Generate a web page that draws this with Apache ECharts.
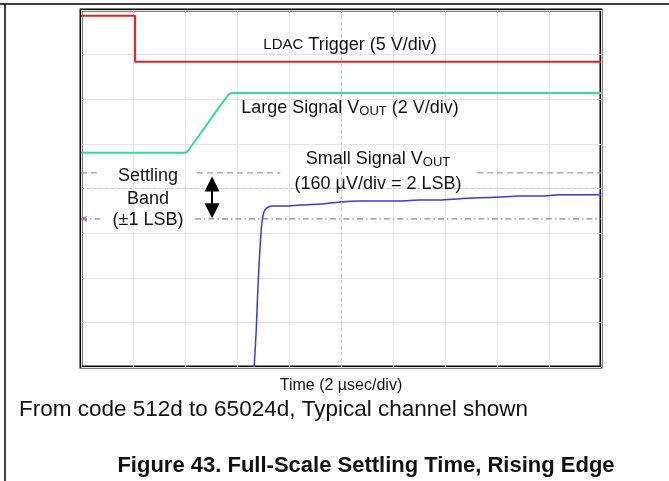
<!DOCTYPE html>
<html>
<head>
<meta charset="utf-8">
<script src="https://cdn.jsdelivr.net/npm/echarts@6/dist/echarts.min.js"></script>
<style>
html,body{margin:0;padding:0;background:#fff;}
#chart{width:669px;height:481px;}
</style>
</head>
<body>
<div id="chart"></div>
<script>
// Values in scope divisions (x: 0..10 div, 2 µs/div; y: 0..8 div)
const redX = [0, 1.04, 1.04, 10];
const redY = [7.87, 7.87, 6.84, 6.84];
const greenX = [0, 2.0, 2.06, 2.82, 2.9, 10];
const greenY = [4.80, 4.80, 4.85, 6.08, 6.14, 6.14];
const blueX = [3.33, 3.37, 3.40, 3.44, 3.48, 3.52, 3.58, 3.67, 3.92, 4.21, 4.60, 4.98, 5.37, 5.75, 6.13, 6.52, 6.90, 7.29, 7.67, 8.06, 8.44, 8.83, 9.21, 9.60, 10.0];
const blueY = [0, 0.83, 1.73, 2.62, 3.25, 3.48, 3.57, 3.61, 3.61, 3.63, 3.65, 3.70, 3.72, 3.72, 3.72, 3.74, 3.74, 3.77, 3.79, 3.81, 3.83, 3.83, 3.86, 3.86, 3.86];
const bandUpper = 4.35;
const bandLower = 3.32;
const upperSegs = [[0, 0.37], [2.23, 3.83], [7.62, 10]];
const lowerSegs = [[0, 0.37], [2.19, 10]];
const groundRef = [0.05, 3.32];
const arrowX = 2.52;
const arrowTop = 4.10;
const arrowBottom = 3.50;
const centerX = 5;
const centerY = 4;

const zip = (xs, ys) => xs.map((x, i) => [x, ys[i]]);
const segData = (segs, y) => {
  const out = [];
  segs.forEach((s, i) => { if (i) out.push([s[0], '-']); out.push([s[0], y], [s[1], y]); });
  return out;
};

const F = '"Liberation Sans", Arial, sans-serif';
const chart = echarts.init(document.getElementById('chart'), null, {renderer: 'canvas'});

const txt = (x, y, text, size, extra) => Object.assign({
  type: 'text', x: x, y: y, z: 100,
  style: Object.assign({text: text, fill: '#111', font: size + 'px ' + F, align: 'center', verticalAlign: 'middle'}, extra || {})
});

chart.setOption({
  animation: false,
  grid: {left: 81, top: 10, width: 520, height: 357, show: true, borderColor: '#000', borderWidth: 3, backgroundColor: 'transparent'},
  xAxis: {
    type: 'value', min: 0, max: 10, interval: 1,
    axisLine: {show: false}, axisTick: {show: false}, axisLabel: {show: false},
    splitLine: {show: true, lineStyle: {color: '#e4e4e4', width: 1}},
    name: 'Time (2 µsec/div)', nameLocation: 'middle', nameGap: 11,
    nameTextStyle: {fontFamily: F, fontSize: 16, color: '#111'}
  },
  yAxis: {
    type: 'value', min: 0, max: 8, interval: 1,
    axisLine: {show: false}, axisTick: {show: false}, axisLabel: {show: false},
    splitLine: {show: true, lineStyle: {color: '#e4e4e4', width: 1}}
  },
  series: [
    {
      type: 'line', data: [[centerX, centerY]], symbol: 'none', lineStyle: {opacity: 0}, silent: true,
      markLine: {
        silent: true, symbol: 'none', label: {show: false},
        lineStyle: {color: '#c9c9c9', width: 1, type: [3, 3]},
        data: [{xAxis: centerX}, {yAxis: centerY}]
      }
    },
    {type: 'line', data: segData(upperSegs, bandUpper), symbol: 'none', connectNulls: false,
      lineStyle: {color: '#9a9a9a', width: 1.3, type: [6, 4]}},
    {type: 'line', data: segData(lowerSegs, bandLower), symbol: 'none', connectNulls: false,
      lineStyle: {color: '#8a8a8a', width: 1.3, type: [6, 3, 1.5, 3]}},
    {type: 'line', data: zip(redX, redY), symbol: 'none', lineStyle: {color: '#e3212b', width: 2}},
    {type: 'line', data: zip(greenX, greenY), symbol: 'none', smooth: 0.2, lineStyle: {color: '#35dc92', width: 2}},
    {type: 'line', data: zip(blueX, blueY), symbol: 'none', smooth: 0.3, lineStyle: {color: '#3a3ad6', width: 1.5}},
    {type: 'scatter', data: [groundRef], symbol: 'triangle', symbolRotate: 90, symbolSize: [6, 6],
      itemStyle: {color: '#c43cc4'}},
    {
      type: 'line', data: [[arrowX, arrowTop]], symbol: 'none', lineStyle: {opacity: 0}, silent: true,
      markLine: {
        silent: true, symbol: ['triangle', 'triangle'], symbolSize: [15, 15], label: {show: false},
        lineStyle: {color: '#000', width: 2, type: 'solid'}, itemStyle: {color: '#000'},
        data: [[{coord: [arrowX, arrowTop]}, {coord: [arrowX, arrowBottom]}]]
      }
    }
  ],
  graphic: [
    {type: 'line', shape: {x1: 0, y1: 4, x2: 669, y2: 4}, style: {stroke: '#000', lineWidth: 1.5}},
    {type: 'line', shape: {x1: 5, y1: 4, x2: 5, y2: 481}, style: {stroke: '#000', lineWidth: 1.5}},
    txt(350, 45, '{l|LDAC} {a|Trigger (5 V/div)}', 18, {rich: {
      l: {fontSize: 15, fontFamily: F, fill: '#111'}, a: {fontSize: 18, fontFamily: F, fill: '#111'}}}),
    txt(350, 108, '{a|Large Signal V}{s|OUT}{a| (2 V/div)}', 18, {rich: {
      a: {fontSize: 18, fontFamily: F, lineHeight: 20, fill: '#111'},
      s: {fontSize: 13, fontFamily: F, lineHeight: 13, verticalAlign: 'bottom', fill: '#111'}}}),
    txt(378, 159, '{a|Small Signal V}{s|OUT}', 18, {rich: {
      a: {fontSize: 18, fontFamily: F, lineHeight: 20, fill: '#111'},
      s: {fontSize: 13, fontFamily: F, lineHeight: 13, verticalAlign: 'bottom', fill: '#111'}}}),
    txt(378, 184, '(160 µV/div = 2 LSB)', 18),
    txt(148, 176, 'Settling', 18),
    txt(148, 199, 'Band', 18),
    txt(148, 220, '(±1 LSB)', 18),
    txt(19, 410, 'From code 512d to 65024d, Typical channel shown', 22.5, {align: 'left'}),
    txt(366, 466, 'Figure 43. Full-Scale Settling Time, Rising Edge', 22, {font: 'bold 22px ' + F})
  ]
});
</script>
</body>
</html>
